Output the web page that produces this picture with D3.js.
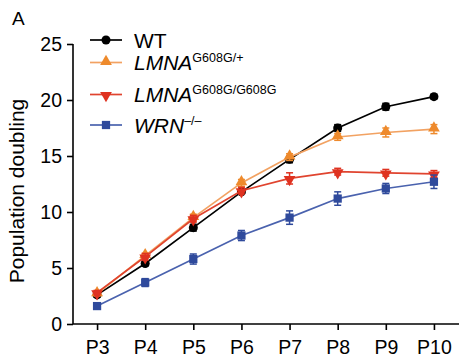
<!DOCTYPE html>
<html><head><meta charset="utf-8">
<script src="https://cdn.jsdelivr.net/npm/d3@7"></script>
<style>
html,body{margin:0;padding:0;background:#fff;}
svg{display:block;font-family:"Liberation Sans",Arial,sans-serif;}
</style></head>
<body>
<svg id="chart" width="460" height="361"></svg>
<script>
const categories = ["P3","P4","P5","P6","P7","P8","P9","P10"];
const yTicks = [0,5,10,15,20,25];
const wtValues = [2.6,5.4,8.6,11.8,14.7,17.5,19.4,20.3];
const wtErr = [0.2,0.2,0.3,0.2,0.3,0.3,0.3,0.2];
const lmnaHetValues = [2.7,6.1,9.5,12.6,14.9,16.7,17.1,17.4];
const lmnaHetErr = [0.2,0.2,0.3,0.3,0.3,0.3,0.4,0.4];
const lmnaHomValues = [2.8,6.0,9.4,11.9,13.0,13.6,13.5,13.4];
const lmnaHomErr = [0.2,0.3,0.3,0.3,0.5,0.3,0.3,0.3];
const wrnValues = [1.6,3.7,5.8,7.9,9.5,11.2,12.1,12.7];
const wrnErr = [0.1,0.35,0.45,0.45,0.6,0.6,0.45,0.6];
const seriesNames = ["WT","LMNA","LMNA","WRN"];
const seriesSup = ["","G608G/+","G608G/G608G","\u2013/\u2013"];

const series = [
  {name:seriesNames[0], sup:seriesSup[0], italic:false, values:wtValues, err:wtErr, color:"#000000", line:"#000000", symbol:d3.symbolCircle, size:64},
  {name:seriesNames[1], sup:seriesSup[1], italic:true, values:lmnaHetValues, err:lmnaHetErr, color:"#EE8A2C", line:"#F2A262", symbol:d3.symbolTriangle, size:60, rot:0},
  {name:seriesNames[2], sup:seriesSup[2], italic:true, values:lmnaHomValues, err:lmnaHomErr, color:"#DF3220", line:"#E0442F", symbol:d3.symbolTriangle, size:60, rot:180},
  {name:seriesNames[3], sup:seriesSup[3], italic:true, values:wrnValues, err:wrnErr, color:"#2F4A9C", line:"#4A62AE", symbol:d3.symbolSquare, size:68}
];

const svg = d3.select("#chart");
const x = d3.scalePoint().domain(categories).range([73,458]).padding(0.5);
const y = d3.scaleLinear().domain([0,25]).range([324,44]);

// axes
const yAxis = svg.append("g").attr("transform","translate(73,0)")
  .call(d3.axisLeft(y).tickValues(yTicks).tickSize(6).tickPadding(5));
const xAxis = svg.append("g").attr("transform","translate(0,324)")
  .call(d3.axisBottom(x).tickSize(6).tickPadding(4));
[yAxis,xAxis].forEach(a=>{
  a.attr("font-size",null).attr("font-family",null);
  a.select(".domain").attr("stroke","#000").attr("stroke-width",1.6);
  a.selectAll(".tick line").attr("stroke","#000").attr("stroke-width",1.6);
  a.selectAll(".tick text").attr("fill","#000").style("font-size","19.5px");
});
yAxis.select(".domain").attr("d","M0,324V44");
xAxis.select(".domain").attr("d","M73,0H459");
xAxis.selectAll(".tick text").attr("y",30).attr("dy",0);

svg.append("text").attr("transform","translate(24,191) rotate(-90)")
  .attr("text-anchor","middle").style("font-size","21px").text("Population doubling");
svg.append("text").attr("x",12).attr("y",25).style("font-size","19px").text("A");

// series
const line = d3.line().x((d,i)=>x(categories[i])).y(d=>y(d));
series.forEach(s=>{
  const g = svg.append("g");
  g.append("path").attr("d",line(s.values)).attr("fill","none").attr("stroke",s.line).attr("stroke-width",1.7);
  s.values.forEach((v,i)=>{
    const cx = x(categories[i]);
    const e = s.err[i];
    if (e>0.15){
      g.append("line").attr("x1",cx).attr("x2",cx).attr("y1",y(v-e)).attr("y2",y(v+e)).attr("stroke",s.color).attr("stroke-width",1.5);
      [v-e,v+e].forEach(t=>g.append("line").attr("x1",cx-3.5).attr("x2",cx+3.5).attr("y1",y(t)).attr("y2",y(t)).attr("stroke",s.color).attr("stroke-width",1.5));
    }
    g.append("path").attr("d",d3.symbol().type(s.symbol).size(s.size)())
      .attr("transform",`translate(${cx},${y(v)+(s.rot===180?1:(s.rot===0?-1:0))}) rotate(${s.rot||0})`)
      .attr("fill",s.color);
  });
});

// legend
const legendY = [40,62.5,94.5,125];
series.forEach((s,i)=>{
  const ly = legendY[i];
  svg.append("line").attr("x1",90).attr("x2",122).attr("y1",ly).attr("y2",ly).attr("stroke",s.line).attr("stroke-width",1.7);
  svg.append("path").attr("d",d3.symbol().type(s.symbol).size(s.size)())
    .attr("transform",`translate(106,${ly+(s.rot===180?1:(s.rot===0?-1:0))}) rotate(${s.rot||0})`).attr("fill",s.color);
  const t = svg.append("text").attr("x",134).attr("y",ly+7.5).style("font-size","21px");
  t.append("tspan").text(s.name).style("font-style",s.italic?"italic":"normal");
  if (s.sup) t.append("tspan").attr("dy",-8).style("font-size","12.5px").text(s.sup);
});
</script>
</body></html>
